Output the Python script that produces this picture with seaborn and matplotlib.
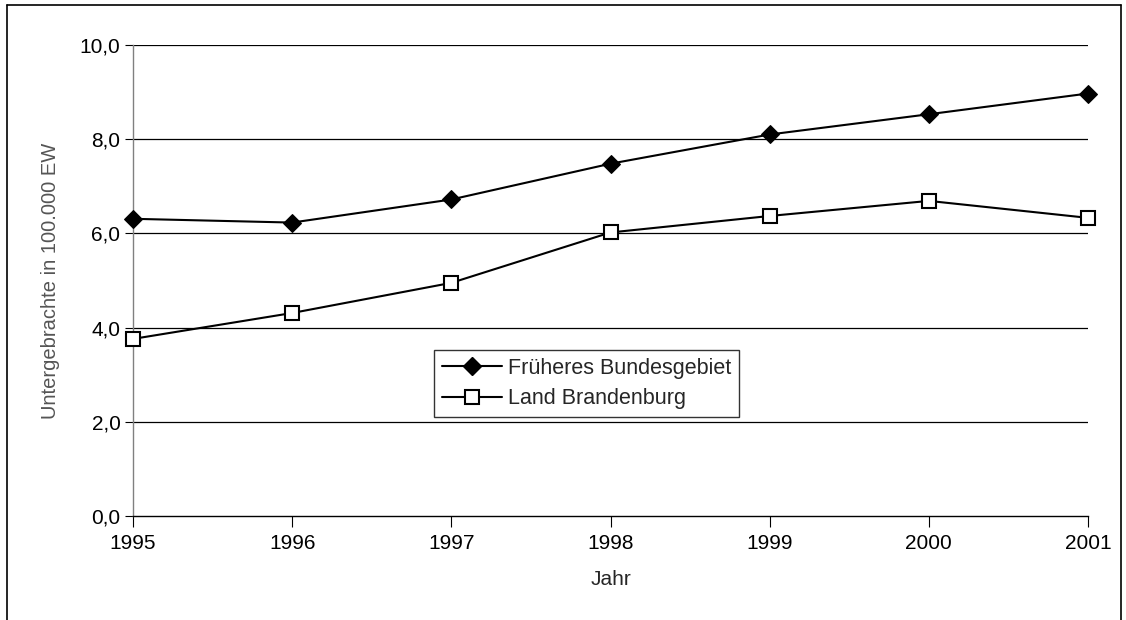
import numpy as np
import pandas as pd
import matplotlib
matplotlib.use("Agg")
import matplotlib.pyplot as plt
import seaborn as sns
from matplotlib.lines import Line2D

# Daten
jahre = [1995, 1996, 1997, 1998, 1999, 2000, 2001]
bundesgebiet = [6.31, 6.23, 6.72, 7.48, 8.10, 8.53, 8.97]
brandenburg = [3.76, 4.31, 4.95, 6.02, 6.37, 6.69, 6.33]
serien = ["Früheres Bundesgebiet", "Land Brandenburg"]
y_ticks = [0, 2, 4, 6, 8, 10]
y_labels = ["0,0", "2,0", "4,0", "6,0", "8,0", "10,0"]

df = pd.DataFrame({
    "Jahr": jahre * 2,
    "Wert": bundesgebiet + brandenburg,
    "Serie": [serien[0]] * len(jahre) + [serien[1]] * len(jahre),
})

sns.set_theme(style="white")
plt.rcParams["font.family"] = ["Liberation Sans", "DejaVu Sans"]

fig = plt.figure(figsize=(11.26, 6.2), dpi=100)
ax = fig.add_axes([133 / 1126, 1 - 516 / 620, (1088 - 133) / 1126, (516 - 45) / 620])

# Gitternetz
for t in y_ticks[1:]:
    ax.axhline(t, color="black", lw=0.9, zorder=0)

stile = {
    serien[0]: dict(marker="D", markersize=9, markerfacecolor="black", markeredgecolor="black"),
    serien[1]: dict(marker="s", markersize=10, markerfacecolor="white", markeredgecolor="black", markeredgewidth=1.5),
}
for s in serien:
    sns.lineplot(data=df[df["Serie"] == s], x="Jahr", y="Wert", color="black",
                 linewidth=1.5, ax=ax, legend=False, clip_on=False, zorder=3, **stile[s])

ax.set_xlim(jahre[0], jahre[-1])
ax.set_ylim(0, 10)
ax.set_xticks(jahre)
ax.set_xticklabels([str(j) for j in jahre])
ax.set_yticks(y_ticks)
ax.set_yticklabels(y_labels)

for sp in ["top", "right"]:
    ax.spines[sp].set_visible(False)
ax.spines["left"].set_color("#808080")
ax.spines["left"].set_linewidth(1.0)
ax.spines["bottom"].set_color("black")
ax.spines["bottom"].set_linewidth(1.0)

ax.tick_params(axis="x", direction="out", length=8, width=0.8, colors="black",
               labelsize=15, pad=5, bottom=True)
ax.tick_params(axis="y", direction="out", length=6, width=0.8, colors="black",
               labelsize=15, pad=3, left=True)
for lbl in ax.get_xticklabels() + ax.get_yticklabels():
    lbl.set_color("black")

ax.set_xlabel("Jahr", fontsize=15, labelpad=12)
ax.set_ylabel("Untergebrachte in 100.000 EW", fontsize=14.5, color="#555555", labelpad=14)

handles = [
    Line2D([], [], color="black", linewidth=1.5, **stile[serien[0]]),
    Line2D([], [], color="black", linewidth=1.5, **stile[serien[1]]),
]
leg = fig.legend(handles, serien, loc="upper left",
                 bbox_to_anchor=(434 / 1126, 1 - 350 / 620),
                 frameon=True, fancybox=False, fontsize=15.5, handlelength=2.8,
                 borderpad=0.35, labelspacing=0.45, handletextpad=0.3, borderaxespad=0)
leg.get_frame().set_edgecolor("black")
leg.get_frame().set_linewidth(1.0)

# Rahmen um die Grafik
fig.add_artist(Line2D([7 / 1126, 7 / 1126], [0, 1 - 5 / 620], color="black", lw=1.2, transform=fig.transFigure))
fig.add_artist(Line2D([7 / 1126, 1121 / 1126], [1 - 5 / 620, 1 - 5 / 620], color="black", lw=1.2, transform=fig.transFigure))
fig.add_artist(Line2D([1121 / 1126, 1121 / 1126], [0, 1 - 5 / 620], color="black", lw=1.2, transform=fig.transFigure))

fig.savefig("out.png", dpi=100)
